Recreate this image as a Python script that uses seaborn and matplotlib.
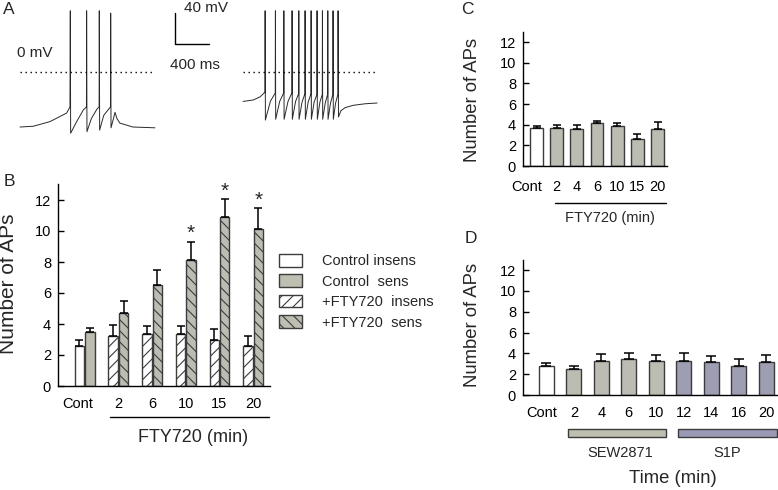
import numpy as np
import pandas as pd
import matplotlib
matplotlib.use("Agg")
import matplotlib.pyplot as plt
import matplotlib.transforms as mtrans
from matplotlib.patches import Patch, Rectangle
from matplotlib.lines import Line2D
import seaborn as sns

sns.set_theme(style="ticks")
plt.rcParams['font.family'] = ['Liberation Sans', 'DejaVu Sans']
plt.rcParams['hatch.linewidth'] = 0.8

# ---- data ----
# A: voltage traces (ms, mV)
T1_MS = [0, 157, 353, 549, 588, 592, 596, 667, 745, 782, 784, 788, 840, 905, 931, 933,
         937, 985, 1050, 1065, 1067, 1071, 1100, 1118, 1140, 1176, 1329, 1588]
T1_MV = [-71, -70, -64, -53, -45, 79, -79, -64, -49, -45, 79, -77, -60, -48, -45, 79,
         -75, -56, -47, -45, 76, -72, -60, -52, -60, -66, -71, -72]
T2_MS = [0, 122, 200, 257, 259, 262,
         320, 378, 380, 383,
         430, 477, 479, 482,
         528, 574, 576, 579,
         617, 653, 655, 658,
         693, 727, 729, 732,
         765, 798, 800, 803,
         835, 868, 870, 873,
         903, 931, 933, 936,
         966, 994, 996, 999,
         1028, 1056, 1058, 1061,
         1088, 1115, 1117, 1122,
         1150, 1200, 1294, 1435, 1576]
T2_MV = [-38, -36, -32, -26, 79, -62,
         -38, -27, 79, -61,
         -38, -27, 79, -61,
         -38, -27, 79, -61,
         -38, -28, 79, -61,
         -39, -28, 79, -61,
         -39, -28, 79, -61,
         -39, -29, 79, -61,
         -39, -29, 79, -61,
         -40, -29, 79, -61,
         -40, -29, 79, -61,
         -40, -29, 79, -58,
         -50, -46, -43, -41, -40]
T2_OFFSET = 2625

# B
B_GROUPS = ['Cont', '2', '6', '10', '15', '20']
B_INSENS = [2.6, 3.2, 3.38, 3.38, 3.0, 2.6]
B_INSENS_ERR = [0.4, 0.71, 0.52, 0.52, 0.69, 0.62]
B_SENS = [3.5, 4.74, 6.51, 8.12, 10.88, 10.15]
B_SENS_ERR = [0.26, 0.73, 0.99, 1.17, 1.16, 1.31]
B_SIG = [False, False, False, True, True, True]

# C
C_TIMES = ['Cont', '2', '4', '6', '10', '15', '20']
C_APS = [3.65, 3.65, 3.55, 4.2, 3.85, 2.65, 3.55]
C_ERR = [0.2, 0.35, 0.45, 0.2, 0.3, 0.45, 0.7]

# D
D_TIMES = ['Cont', '2', '4', '6', '10', '12', '14', '16', '20']
D_APS = [2.8, 2.5, 3.3, 3.5, 3.3, 3.3, 3.15, 2.8, 3.15]
D_ERR = [0.3, 0.3, 0.6, 0.5, 0.55, 0.7, 0.6, 0.7, 0.65]

GREY = '#bebeb1'
BLUE = '#9a9ab6'
EDGE = '#3c3c3c'

W, H = 778, 490
def fx(x): return x / W
def fy(y): return 1 - y / H

fig = plt.figure(figsize=(W / 100, H / 100), dpi=100)


def style_axis(ax, xpad, cont_shift):
    sns.despine(ax=ax)
    ax.set_ylim(0, 13)
    ax.set_yticks(range(0, 13, 2))
    for s in ['left', 'bottom']:
        ax.spines[s].set_color('black')
        ax.spines[s].set_linewidth(1.0)
    ax.tick_params(axis='y', direction='in', length=4, width=1, pad=5,
                   labelsize=10.5, colors='black')
    ax.tick_params(axis='x', length=0, labelsize=10.5, colors='black', pad=xpad)
    ax.set_xlabel('')
    ax.set_ylabel('')
    # the "Cont" label sits a little left of its bar
    lab = ax.get_xticklabels()[0]
    lab.set_transform(lab.get_transform() +
                      mtrans.ScaledTranslation(-cont_shift / 100, 0, fig.dpi_scale_trans))


def add_err(ax, bars, errs, capsize=2.7):
    for bar, e in zip(bars, errs):
        x = bar.get_x() + bar.get_width() / 2
        h = bar.get_height()
        ax.errorbar([x], [h], yerr=[[0], [e]], fmt='none', ecolor='black',
                    elinewidth=1.1, capsize=capsize, capthick=1.1, zorder=1)


# ---- A: traces ----
axA = fig.add_axes([0, fy(165), fx(440), 165 / H])
axA.axis('off')
sns.lineplot(x=T1_MS, y=T1_MV, sort=False, estimator=None, color='#2a2a2a', lw=0.7, ax=axA)
sns.lineplot(x=np.array(T2_MS) + T2_OFFSET, y=T2_MV, sort=False, estimator=None,
             color='#2a2a2a', lw=0.7, ax=axA)
axA.hlines(0, 0, 1590, colors='black', linestyles=(0, (1, 2.6)), lw=1)
axA.hlines(0, T2_OFFSET, T2_OFFSET + 1576, colors='black', linestyles=(0, (1, 2.6)), lw=1)
axA.plot([1823, 1823, 2223], [76, 36, 36], color='black', lw=1)
axA.set_xlim(-235, 4941)
axA.set_ylim(-120, 92.9)
axA.text(1929, 82.6, '40 mV', fontsize=11, va='center', ha='left')
axA.text(2059, 9, '400 ms', fontsize=11, va='center', ha='center')
axA.text(-35, 24.5, '0 mV', fontsize=11, va='center', ha='left')

# ---- B ----
axB = fig.add_axes([fx(58), fy(386), 212 / W, (386 - 184.5) / H])
df_b = pd.DataFrame({'time': B_GROUPS * 2,
                     'cond': ['insens'] * 6 + ['sens'] * 6,
                     'aps': B_INSENS + B_SENS})
sns.barplot(data=df_b, x='time', y='aps', hue='cond', order=B_GROUPS,
            hue_order=['insens', 'sens'], palette={'insens': 'white', 'sens': GREY},
            width=0.62, gap=0.1, edgecolor=EDGE, linewidth=1, errorbar=None,
            legend=False, ax=axB)
hatches = ['///', '\\\\\\']
for cont, errs, hatch in zip(axB.containers, [B_INSENS_ERR, B_SENS_ERR], hatches):
    for i, bar in enumerate(cont):
        if i > 0:
            bar.set_hatch(hatch)
    add_err(axB, cont, errs)
for bar, v, e, sig in zip(axB.containers[1], B_SENS, B_SENS_ERR, B_SIG):
    if sig:
        axB.text(bar.get_x() + bar.get_width() / 2, v + e + 0.55, '*',
                 ha='center', va='center', fontsize=15)
axB.set_xlim(-0.79, 5.5)
style_axis(axB, xpad=8, cont_shift=7)

handles = [Patch(facecolor='white', edgecolor=EDGE, lw=1),
           Patch(facecolor=GREY, edgecolor=EDGE, lw=1),
           Patch(facecolor='white', edgecolor=EDGE, lw=1, hatch='///'),
           Patch(facecolor=GREY, edgecolor=EDGE, lw=1, hatch='\\\\\\')]
labels = ['Control insens', 'Control  sens', '+FTY720  insens', '+FTY720  sens']
fig.legend(handles, labels, loc='upper left', bbox_to_anchor=(fx(279), fy(254)),
           frameon=False, fontsize=10.5, borderpad=0, borderaxespad=0,
           handlelength=1.6, handleheight=0.95, handletextpad=1.35, labelspacing=0.42)

fig.add_artist(Line2D([fx(110), fx(269)], [fy(417), fy(417)], color='black', lw=1))
fig.text(fx(193), fy(438), 'FTY720 (min)', ha='center', va='center', fontsize=13)
fig.text(fx(9), fy(284), 'Number of APs', rotation=90, ha='center', va='center', fontsize=15)

# ---- C ----
axC = fig.add_axes([fx(523), fy(166), 144 / W, 134.3 / H])
sns.barplot(x=C_TIMES, y=C_APS, hue=C_TIMES, palette=['white'] + [GREY] * 6,
            width=0.63, edgecolor=EDGE, linewidth=1, errorbar=None, legend=False, ax=axC)
add_err(axC, [b for c in axC.containers for b in c], C_ERR, capsize=3.2)
axC.set_xlim(-0.67, 6.47)
style_axis(axC, xpad=10, cont_shift=10)
fig.add_artist(Line2D([fx(555), fx(666)], [fy(203), fy(203)], color='black', lw=1))
fig.text(fx(610), fy(218), 'FTY720 (min)', ha='center', va='center', fontsize=10.5)
fig.text(fx(472.5), fy(100), 'Number of APs', rotation=90, ha='center', va='center', fontsize=13.3)

# ---- D ----
axD = fig.add_axes([fx(523), fy(395), 255 / W, 135.4 / H])
sns.barplot(x=D_TIMES, y=D_APS, hue=D_TIMES,
            palette=['white'] + [GREY] * 4 + [BLUE] * 4,
            width=0.55, edgecolor=EDGE, linewidth=1, errorbar=None, legend=False, ax=axD)
add_err(axD, [b for c in axD.containers for b in c], D_ERR, capsize=3.6)
axD.set_xlim(-0.85, 8.43)
style_axis(axD, xpad=8, cont_shift=5)
fig.add_artist(Rectangle((fx(568), fy(437)), fx(666) - fx(568), (437 - 429) / H,
                         facecolor=GREY, edgecolor=EDGE, lw=1, transform=fig.transFigure))
fig.add_artist(Rectangle((fx(678), fy(437)), fx(777) - fx(678), (437 - 429) / H,
                         facecolor=BLUE, edgecolor=EDGE, lw=1, transform=fig.transFigure))
fig.text(fx(620), fy(453), 'SEW2871', ha='center', va='center', fontsize=10.5)
fig.text(fx(727), fy(453), 'S1P', ha='center', va='center', fontsize=10.5)
fig.text(fx(673), fy(478), 'Time (min)', ha='center', va='center', fontsize=13.3)
fig.text(fx(472.5), fy(325), 'Number of APs', rotation=90, ha='center', va='center', fontsize=13.3)

# panel letters
for letter, x, y in [('A', 9, 9), ('B', 9, 181), ('C', 467, 9), ('D', 471, 238)]:
    fig.text(fx(x), fy(y), letter, ha='center', va='center', fontsize=12.5)

fig.savefig('out.png', dpi=100, facecolor='white')
